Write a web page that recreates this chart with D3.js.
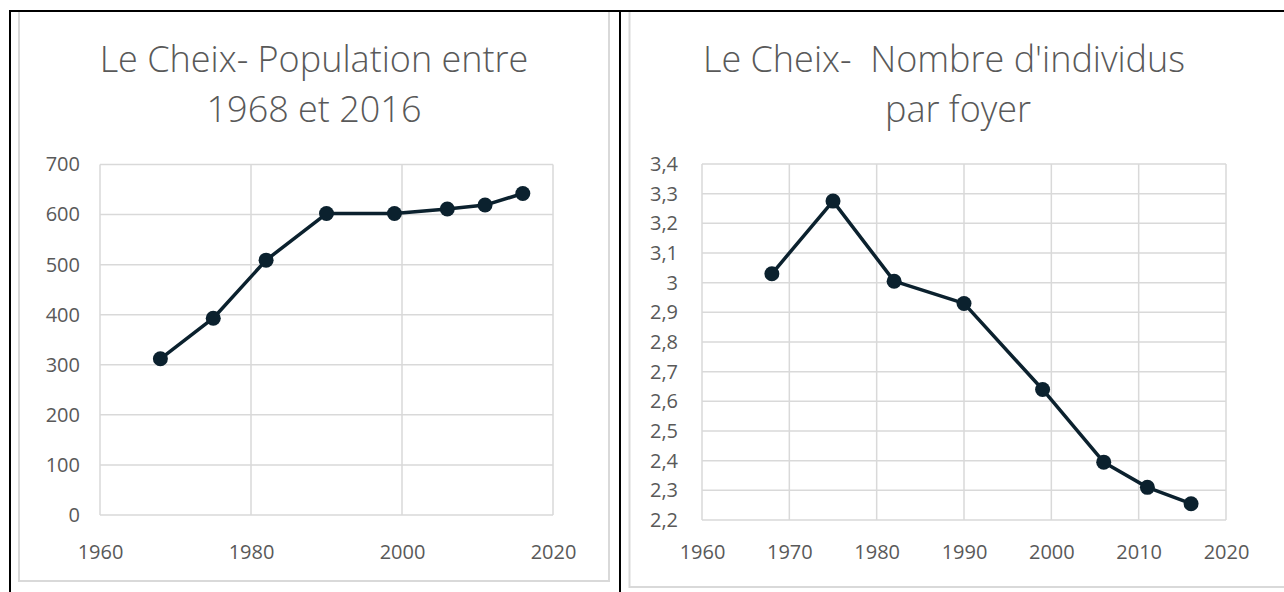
<!DOCTYPE html>
<html>
<head>
<meta charset="utf-8">
<script src="https://cdn.jsdelivr.net/npm/d3@7"></script>
<style>
  body { margin: 0; background: #fff; }
  text { font-family: "Open Sans", "Noto Sans", sans-serif; fill: #595959; }
</style>
</head>
<body>
<svg width="1284" height="592"></svg>
<script>
const years = [1968, 1975, 1982, 1990, 1999, 2006, 2011, 2016];
const population = [312, 393, 509, 602, 602, 611, 619, 642];
const perHousehold = [3.03, 3.275, 3.005, 2.93, 2.64, 2.395, 2.31, 2.255];

const popYTicks = [0, 100, 200, 300, 400, 500, 600, 700];
const popXTicks = [1960, 1980, 2000, 2020];
const hhYTicks = [2.2, 2.3, 2.4, 2.5, 2.6, 2.7, 2.8, 2.9, 3.0, 3.1, 3.2, 3.3, 3.4];
const hhXTicks = [1960, 1970, 1980, 1990, 2000, 2010, 2020];

const title1 = ["Le Cheix- Population entre", "1968 et 2016"];
const title2 = ["Le Cheix-  Nombre d'individus", "par foyer"];

const svg = d3.select('svg');
const frLocale = d3.formatLocale({decimal: ",", thousands: " ", grouping: [3], currency: ["", " €"]});
const fmt = frLocale.format(".1~f");

const gridColor = '#d9d9d9';
const lineColor = '#0b212e';

// chart boxes (light grey borders)
svg.append('rect').attr('x', 19).attr('y', 11).attr('width', 590).attr('height', 570)
  .attr('fill', 'none').attr('stroke', gridColor).attr('stroke-width', 2);
svg.append('rect').attr('x', 629.5).attr('y', 11).attr('width', 700).attr('height', 576)
  .attr('fill', 'none').attr('stroke', gridColor).attr('stroke-width', 2);

function drawChart(opt) {
  const x = d3.scaleLinear().domain(d3.extent(opt.xTicks)).range([opt.left, opt.right]);
  const y = d3.scaleLinear().domain(d3.extent(opt.yTicks)).range([opt.bottom, opt.top]);
  const g = svg.append('g');

  // grid
  g.selectAll('.hgrid').data(opt.yTicks).enter()
    .append('line')
    .attr('x1', opt.left).attr('x2', opt.right)
    .attr('y1', d => y(d)).attr('y2', d => y(d))
    .attr('stroke', gridColor).attr('stroke-width', 1.5);
  g.selectAll('.vgrid').data(opt.xTicks).enter()
    .append('line')
    .attr('x1', d => x(d)).attr('x2', d => x(d))
    .attr('y1', opt.top).attr('y2', opt.bottom)
    .attr('stroke', gridColor).attr('stroke-width', 1.5);

  // axes labels
  const yAxis = d3.axisLeft(y).tickValues(opt.yTicks).tickSize(0).tickPadding(opt.yPad).tickFormat(fmt);
  const ya = g.append('g').attr('transform', `translate(${opt.left},0)`).call(yAxis);
  const xAxis = d3.axisBottom(x).tickValues(opt.xTicks).tickSize(0).tickPadding(opt.xPad).tickFormat(d3.format('d'));
  const xa = g.append('g').attr('transform', `translate(0,${opt.bottom})`).call(xAxis);
  [ya, xa].forEach(a => {
    a.select('.domain').remove();
    a.selectAll('text').attr('font-size', 20).attr('fill', '#595959')
      .attr('font-family', '"Open Sans", sans-serif');
  });

  // line and markers
  const pts = years.map((yr, i) => [yr, opt.values[i]]);
  g.append('path').datum(pts)
    .attr('d', d3.line().x(d => x(d[0])).y(d => y(d[1])))
    .attr('fill', 'none').attr('stroke', lineColor).attr('stroke-width', 3.5)
    .attr('stroke-linejoin', 'round');
  g.selectAll('circle').data(pts).enter()
    .append('circle')
    .attr('cx', d => x(d[0])).attr('cy', d => y(d[1])).attr('r', 7.5)
    .attr('fill', lineColor);

  // title
  g.selectAll('.title').data(opt.title).enter()
    .append('text')
    .attr('x', (d, i) => opt.titleX[i]).attr('y', (d, i) => 72 + i * 50)
    .attr('text-anchor', 'middle').attr('font-size', 36).attr('font-weight', 300)
    .style('white-space', 'pre')
    .text(d => d);
}

drawChart({left: 100, right: 553, top: 164.5, bottom: 515, xPad: 30, yPad: 20, xTicks: popXTicks, yTicks: popYTicks,
  values: population, title: title1, titleX: [314, 314]});
drawChart({left: 702, right: 1226, top: 164, bottom: 520, xPad: 25, yPad: 24, xTicks: hhXTicks, yTicks: hhYTicks,
  values: perHousehold, title: title2, titleX: [944, 958]});

// black frame lines
svg.append('line').attr('x1', 9).attr('x2', 1284).attr('y1', 11).attr('y2', 11)
  .attr('stroke', '#000').attr('stroke-width', 2);
svg.append('line').attr('x1', 10).attr('x2', 10).attr('y1', 10).attr('y2', 592)
  .attr('stroke', '#000').attr('stroke-width', 2);
svg.append('line').attr('x1', 620).attr('x2', 620).attr('y1', 10).attr('y2', 592)
  .attr('stroke', '#000').attr('stroke-width', 2);
</script>
</body>
</html>
